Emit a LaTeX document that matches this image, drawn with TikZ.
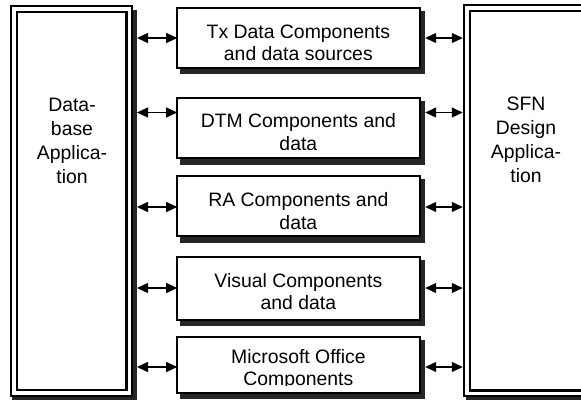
\documentclass[tikz,border=0pt]{standalone}
\usepackage{fontspec}
\setmainfont{Liberation Sans}
\usetikzlibrary{arrows.meta}
\newcommand\linestack[1]{\vtop{\halign{\hfil##\hfil\cr#1\crcr}}}
\tikzset{
  midbox/.style={draw, line width=2pt, fill=white, inner sep=0pt, outer sep=0pt},
  sidebox/.style={draw, line width=2.3pt, double=white, double distance=3.5pt, fill=white, inner sep=0pt, outer sep=4.05pt},
  dropshade/.style={fill=black!85, draw=none, inner sep=0pt, outer sep=0pt, anchor=north west},
  lbl/.style={inner sep=0pt, outer sep=0pt, anchor=base, font=\fontsize{19.4}{22.7}\selectfont},
  sidelbl/.style={inner sep=0pt, outer sep=0pt, anchor=base, font=\fontsize{19.4}{24}\selectfont},
  link/.style={line width=1.2pt, {Triangle[length=11pt,width=10pt]}-{Triangle[length=11pt,width=10pt]}}
}
\begin{document}
\begin{tikzpicture}[x=1pt, y=-1pt]
\useasboundingbox (0,0) rectangle (581,400);
\clip (0,0) rectangle (581,400);
\fill[white] (0,0) rectangle (581,400);

% side applications
\node[dropshade, minimum width=125pt, minimum height=389.5pt] (lsh) at (12,10) {};
\node[sidebox, minimum width=115.1pt, minimum height=383.8pt] (lapp) at (71.75,201.1) {};
\node[dropshade, minimum width=234pt, minimum height=389.5pt] (rsh) at (466,10) {};
\node[sidebox, minimum width=233.2pt, minimum height=385.1pt] (rapp) at (583.4,200.75) {};
\node[sidelbl] (ltext) at (72,111.5) {\linestack{Data-\cr base\cr Applica-\cr tion}};
\node[sidelbl] (rtext) at (526,110.5) {\linestack{SFN\cr Design\cr Applica-\cr tion}};

% middle components: shadows
\node[dropshade, minimum width=245pt, minimum height=63.5pt] (s1) at (180.2,10.8) {};
\node[dropshade, minimum width=245pt, minimum height=63.7pt] (s2) at (180.2,100.8) {};
\node[dropshade, minimum width=245pt, minimum height=63.5pt] (s3) at (180.2,179.2) {};
\node[dropshade, minimum width=245pt, minimum height=65.8pt] (s4) at (180.2,260.2) {};
\node[dropshade, minimum width=245pt, minimum height=59.3pt] (s5) at (180.2,340) {};

% middle components: boxes
\node[midbox, minimum width=242.3pt, minimum height=60pt] (b1) at (298.35,37.8) {};
\node[midbox, minimum width=242.3pt, minimum height=60.2pt] (b2) at (298.35,127.9) {};
\node[midbox, minimum width=242.3pt, minimum height=60pt] (b3) at (298.35,206.2) {};
\node[midbox, minimum width=242.3pt, minimum height=62.3pt] (b4) at (298.35,288.35) {};
\node[midbox, minimum width=242.3pt, minimum height=55.8pt] (b5) at (298.35,364.9) {};

% baselines and cut levels of the texts
\coordinate (bl1) at (0,38);   \coordinate (c1) at (0,60.2);
\coordinate (bl2) at (0,127.3); \coordinate (c2) at (0,149.5);
\coordinate (bl3) at (0,206.8); \coordinate (c3) at (0,229);
\coordinate (bl4) at (0,287.2); \coordinate (c4) at (0,309.4);
\coordinate (bl5) at (0,363.2); \coordinate (c5) at (0,385.4);

\begin{scope}
\clip (b1.north west) rectangle (b1.east |- c1);
\node[lbl] (t1) at (b1.center |- bl1) {\linestack{Tx Data Components\cr and data sources}};
\end{scope}
\begin{scope}
\clip (b2.north west) rectangle (b2.east |- c2);
\node[lbl] (t2) at (b2.center |- bl2) {\linestack{DTM Components and\cr data}};
\end{scope}
\begin{scope}
\clip (b3.north west) rectangle (b3.east |- c3);
\node[lbl] (t3) at (b3.center |- bl3) {\linestack{RA Components and\cr data}};
\end{scope}
\begin{scope}
\clip (b4.north west) rectangle (b4.east |- c4);
\node[lbl] (t4) at (b4.center |- bl4) {\linestack{Visual Components\cr and data}};
\end{scope}
\begin{scope}
\clip (b5.north west) rectangle (b5.east |- c5);
\node[lbl] (t5) at (b5.center |- bl5) {\linestack{Microsoft Office\cr Components}};
\end{scope}

% connector heights
\coordinate (y1) at (0,38);
\coordinate (y2) at (0,112.5);
\coordinate (y3) at (0,207);
\coordinate (y4) at (0,288);
\coordinate (y5) at (0,367);

\draw[link] (lsh.east |- y1) -- (b1.west |- y1);
\draw[link] (lsh.east |- y2) -- (b2.west |- y2);
\draw[link] (lsh.east |- y3) -- (b3.west |- y3);
\draw[link] (lsh.east |- y4) -- (b4.west |- y4);
\draw[link] (lsh.east |- y5) -- (b5.west |- y5);

\draw[link] (s1.east |- y1) -- (rapp.west |- y1);
\draw[link] (s2.east |- y2) -- (rapp.west |- y2);
\draw[link] (s3.east |- y3) -- (rapp.west |- y3);
\draw[link] (s4.east |- y4) -- (rapp.west |- y4);
\draw[link] (s5.east |- y5) -- (rapp.west |- y5);
\end{tikzpicture}
\end{document}
